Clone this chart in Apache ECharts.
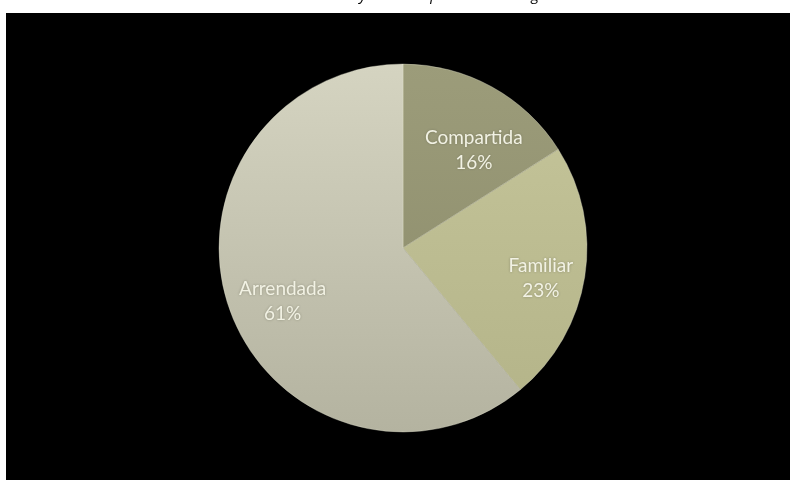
<!DOCTYPE html>
<html>
<head>
<meta charset="utf-8">
<script src="https://cdn.jsdelivr.net/npm/echarts@6/dist/echarts.min.js"></script>
<style>
  html, body { margin: 0; padding: 0; background: #ffffff; }
  #chart { width: 790px; height: 480px; }
</style>
</head>
<body>
<div id="chart"></div>
<script>
// Housing tenure shares
const categories = ['Compartida', 'Familiar', 'Arrendada'];
const shares = [16, 23, 61];
const titleText = 'Distribución de viviendas y tenencia por clase de hogar';

// slice fills: [top colour, bottom colour]
const sliceFills = [
  ['#9c9c7a', '#8a8a69'],
  ['#c6c69b', '#b3b388'],
  ['#d5d4c1', '#b4b3a0']
];
// nudges for the inside labels
const labelNudge = [[25, -14], [44, 16], [-31, 21]];

const cx = 403, cy = 248, R = 184;

const chart = echarts.init(document.getElementById('chart'));

chart.setOption({
  backgroundColor: '#ffffff',
  animation: false,
  graphic: [
    {
      type: 'rect', z: -10,
      shape: { x: 6, y: 13, width: 784, height: 467 },
      style: { fill: '#000000' }
    },
    {
      type: 'text', z: -5,
      x: 372, y: 3,
      style: {
        text: titleText,
        fill: '#000000',
        font: 'italic 15px "Open Sans", sans-serif',
        textAlign: 'center',
        textVerticalAlign: 'bottom'
      }
    }
  ],
  series: [{
    type: 'pie',
    center: [cx, cy],
    radius: [0, R],
    startAngle: 90,
    clockwise: true,
    silent: true,
    label: {
      show: true,
      position: 'inside',
      formatter: p => p.name + '\n' + p.value + '%',
      color: '#f2f2e4',
      fontFamily: 'Lato, "Open Sans", sans-serif',
      fontSize: 19,
      lineHeight: 25,
      textShadowColor: 'rgba(90,90,70,0.5)',
      textShadowBlur: 3
    },
    labelLine: { show: false },
    itemStyle: {
      borderColor: 'rgba(230,230,210,0.35)',
      borderWidth: 1
    },
    data: categories.map((name, i) => ({
      name,
      value: shares[i],
      label: { offset: labelNudge[i] },
      itemStyle: {
        color: {
          type: 'linear', global: true,
          x: 0, y: cy - R, x2: 0, y2: cy + R,
          colorStops: [
            { offset: 0, color: sliceFills[i][0] },
            { offset: 1, color: sliceFills[i][1] }
          ]
        }
      }
    }))
  }]
});
</script>
</body>
</html>
